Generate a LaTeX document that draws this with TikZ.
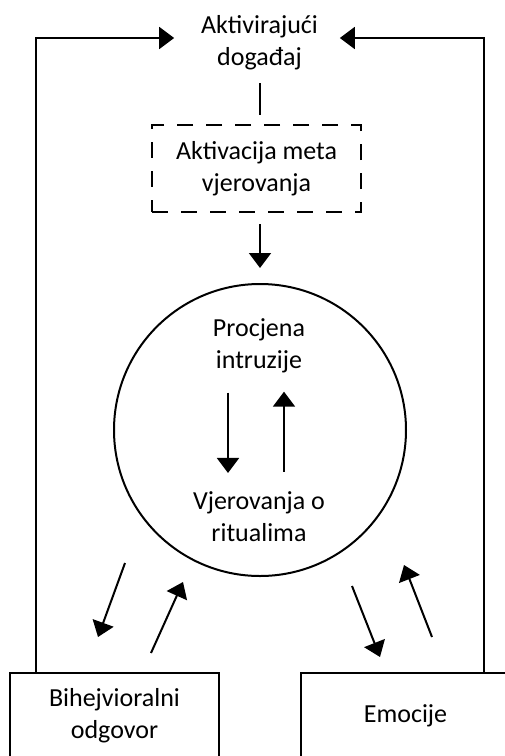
\documentclass[tikz,border=0pt]{standalone}
\usepackage{fontspec}
\setmainfont{Carlito}
\usetikzlibrary{arrows.meta}
\begin{document}
\begin{tikzpicture}[x=1pt,y=-1pt,line width=2pt,
  lbl/.style={font=\fontsize{26}{32}\selectfont,align=center,inner sep=0pt,outer sep=0pt},
  boxn/.style={lbl,draw,rectangle,minimum width=209pt,minimum height=86pt},
  dbox/.style={lbl,draw,rectangle,dash pattern=on 16pt off 13pt,minimum width=209pt,minimum height=87pt},
  circn/.style={draw,circle,minimum size=292pt,inner sep=0pt,outer sep=0pt},
  arr/.style={-{Triangle[length=15pt,width=22pt]}}]
\clip (0,0) rectangle (505,756);
\fill[white] (0,0) rectangle (505,756);
% nodes
\node[lbl] (ev) at (259.5,43) {Aktivirajući\\događaj};
\node[dbox] (meta) at (256.5,168.5) {Aktivacija meta\\vjerovanja};
\node[circn] (circ) at (260,430) {};
\node[lbl] (proc) at (259,346) {Procjena\\intruzije};
\node[lbl] (vjer) at (259,517) {Vjerovanja o\\ritualima};
\node[boxn] (beh) at (114.5,716) {Bihejvioralni\\odgovor};
\node[boxn] (emo) at (405.5,716) {Emocije};
% free ends of the bottom arrows
\coordinate (a1s) at (125,563);
\coordinate (a1e) at (98,637);
\coordinate (a2s) at (151,653);
\coordinate (a2e) at (183,582);
\coordinate (b1s) at (352,586);
\coordinate (b1e) at (380,657);
\coordinate (b2s) at (432,637);
\coordinate (b2e) at (404,565);
% connectors
\draw[arr] ([xshift=26pt]beh.north west) |- ([xshift=-27pt,yshift=5pt]ev.west);
\draw[arr] ([xshift=-26pt]emo.north east) |- ([xshift=22pt,yshift=5pt]ev.east);
\draw[shorten <=13pt,shorten >=10pt] (ev.south) -- (ev.south |- meta.north);
\draw[arr,shorten <=12pt,shorten >=16pt] (meta.south -| circ.north) -- (circ.north);
\draw[arr,shorten <=19.5pt,shorten >=19pt] ([xshift=-31pt]proc.south) -- ([xshift=-31pt]vjer.north);
\draw[arr,shorten <=20pt,shorten >=18.5pt] ([xshift=25pt]vjer.north) -- ([xshift=25pt]proc.south);
\draw[arr] (a1s) -- (a1e);
\draw[arr] (a2s) -- (a2e);
\draw[arr] (b1s) -- (b1e);
\draw[arr] (b2s) -- (b2e);
\end{tikzpicture}
\end{document}
